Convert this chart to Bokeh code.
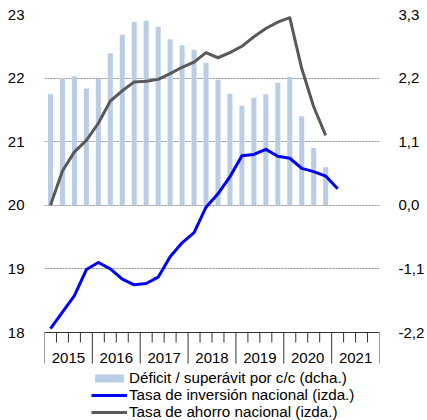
from bokeh.plotting import figure
from bokeh.models import (Range1d, LinearAxis, FixedTicker, CustomJSTickFormatter,
                          Legend, LegendItem)
from bokeh.core.properties import value
from bokeh.embed import file_html
from bokeh.resources import INLINE

# ---------------- data ----------------
years = ["2015", "2016", "2017", "2018", "2019", "2020", "2021"]
# current-account balance, % GDP (right axis), 2015Q1..2020Q4
deficit = [1.92, 2.20, 2.23, 2.02, 2.19, 2.63, 2.95, 3.17, 3.19, 3.09, 2.87, 2.77,
           2.69, 2.46, 2.17, 1.93, 1.72, 1.86, 1.92, 2.12, 2.22, 1.54, 0.99, 0.66]
# national investment rate (left axis), 2015Q1..2021Q1
inversion = [18.06, 18.32, 18.58, 18.99, 19.10, 19.00, 18.84, 18.75, 18.77, 18.87,
             19.19, 19.41, 19.57, 19.97, 20.18, 20.45, 20.78, 20.80, 20.88, 20.77,
             20.74, 20.58, 20.53, 20.46, 20.26]
# national saving rate (left axis), 2015Q1..2020Q4
ahorro = [20.00, 20.54, 20.84, 21.02, 21.29, 21.64, 21.80, 21.94, 21.95, 21.98,
          22.07, 22.17, 22.25, 22.40, 22.32, 22.40, 22.50, 22.65, 22.78, 22.88,
          22.95, 22.15, 21.55, 21.10]
left_ticks = [18, 19, 20, 21, 22, 23]
right_ticks = [-2.2, -1.1, 0.0, 1.1, 2.2, 3.3]
labels = ["Déficit / superávit por c/c (dcha.)",
          "Tasa de inversión nacional (izda.)",
          "Tasa de ahorro nacional (izda.)"]

# ---------------- geometry ----------------
W, H = 427, 420
TOP, LEFT, RIGHT = 14, 44, 44
PX = 63.6            # pixels per left-axis unit
FRAME_H = H - TOP
left_top = left_ticks[-1]
left_axis = left_ticks[0]
left_bottom = left_top - FRAME_H / PX
right_top = right_ticks[-1]
right_bottom = right_top - FRAME_H / PX * (right_ticks[1] - right_ticks[0])
nq = len(years) * 4

FONT = "Liberation Sans"
BAR_C = "#B9CDE5"
INV_C = "#0000FF"
SAV_C = "#595959"
AX_C = "#333333"

p = figure(width=W, height=H, output_backend="svg", toolbar_location=None,
           x_range=Range1d(0, nq), y_range=Range1d(left_bottom, left_top),
           x_axis_location=None,
           min_border_left=LEFT, min_border_right=RIGHT, min_border_top=TOP,
           min_border_bottom=0)
p.outline_line_color = None
p.background_fill_color = None
p.border_fill_color = None

p.extra_y_ranges = {"right": Range1d(right_bottom, right_top)}

# left axis
ya = p.yaxis[0]
ya.ticker = FixedTicker(ticks=left_ticks)
ya.axis_line_color = None
ya.major_tick_line_color = None
ya.minor_tick_line_color = None
ya.major_label_standoff = 14
ya.major_label_text_font = FONT
ya.major_label_text_font_size = "15px"
ya.major_label_text_color = "#000000"

# right axis
ra = LinearAxis(y_range_name="right", ticker=FixedTicker(ticks=right_ticks),
                formatter=CustomJSTickFormatter(code="return tick.toFixed(1).replace('.', ',');"))
ra.axis_line_color = None
ra.major_tick_line_color = None
ra.minor_tick_line_color = None
ra.major_label_standoff = 13
ra.major_label_text_font = FONT
ra.major_label_text_font_size = "15px"
ra.major_label_text_color = "#000000"
p.add_layout(ra, "right")

# grid
p.xgrid.visible = False
p.ygrid.ticker = FixedTicker(ticks=left_ticks[1:])
p.ygrid.grid_line_color = "#8C8C8C"
p.ygrid.grid_line_dash = "2 1"
p.ygrid.grid_line_width = 1

# bars
xb = [i + 0.5 for i in range(len(deficit))]
bars = p.vbar(x=xb, top=deficit, bottom=0, width=0.42, y_range_name="right",
              fill_color=BAR_C, line_color=None)

# lines
inv = p.line([i + 0.5 for i in range(len(inversion))], inversion,
             line_color=INV_C, line_width=3, line_join="round")
sav = p.line([i + 0.5 for i in range(len(ahorro))], ahorro,
             line_color=SAV_C, line_width=3, line_join="round")

# x axis drawn with glyphs (quarter ticks, year separators, year labels)
p.segment(x0=[0], y0=[left_axis], x1=[nq], y1=[left_axis], line_color=AX_C, line_width=1)
qb = [i for i in range(nq + 1) if i % 4 != 0]
yb = [i for i in range(nq + 1) if i % 4 == 0]
p.segment(x0=qb, y0=[left_axis] * len(qb), x1=qb, y1=[left_axis - 10 / PX] * len(qb),
          line_color=AX_C, line_width=1)
p.segment(x0=yb, y0=[left_axis] * len(yb), x1=yb, y1=[left_axis - 31 / PX] * len(yb),
          line_color=AX_C, line_width=1)
p.text(x=[4 * k + 2 for k in range(len(years))], y=[left_axis] * len(years), text=years,
       y_offset=25, text_align="center", text_baseline="middle",
       text_font=value(FONT), text_font_size="15px", text_color="#000000")

legend = Legend(items=[LegendItem(label=labels[0], renderers=[bars]),
                       LegendItem(label=labels[1], renderers=[inv]),
                       LegendItem(label=labels[2], renderers=[sav])],
                location=(47, 0), glyph_width=36, glyph_height=10, label_standoff=2,
                padding=0, margin=0, spacing=0, label_height=16,
                border_line_color=None, background_fill_alpha=0,
                label_text_font=FONT, label_text_font_size="15.2px",
                label_text_line_height=1.0,
                label_text_color="#000000")
p.add_layout(legend)

open("out.html", "w").write(file_html(p, INLINE))
